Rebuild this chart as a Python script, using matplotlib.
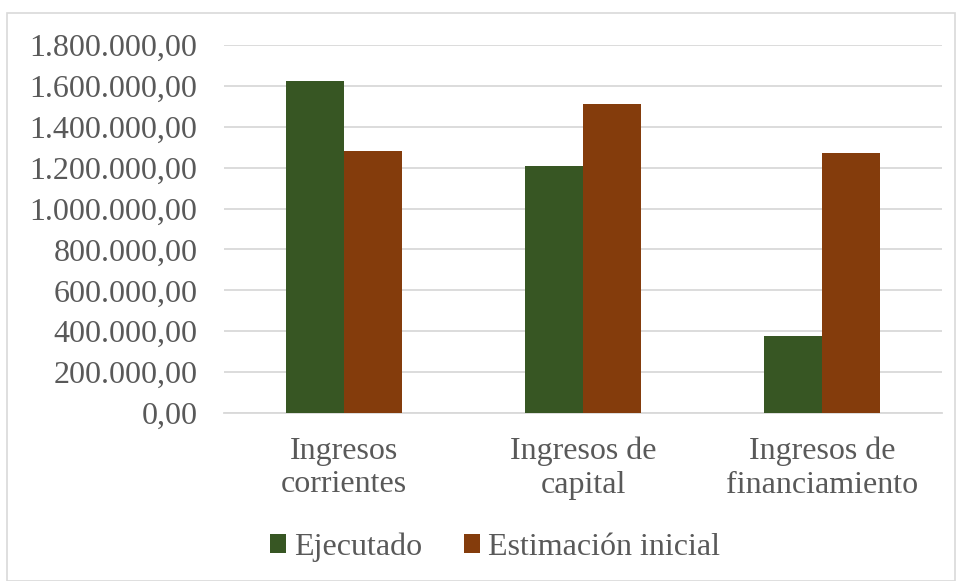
import matplotlib
matplotlib.use('Agg')
import matplotlib.pyplot as plt
import numpy as np
from matplotlib.patches import Rectangle
from matplotlib.ticker import FuncFormatter

plt.rcParams['font.family'] = ['Liberation Serif', 'DejaVu Serif']

categories = ['Ingresos\ncorrientes', 'Ingresos de\ncapital', 'Ingresos de\nfinanciamiento']
ejecutado = [1623000, 1206000, 379000]
estimacion = [1281000, 1511000, 1270000]
series_names = ['Ejecutado', 'Estimación inicial']

green = '#375623'
brown = '#843C0C'
text_col = '#595959'
grid_col = '#D9D9D9'

fig = plt.figure(figsize=(9.56, 5.81), dpi=100)
ax = fig.add_axes([224/956, 1-413/581, (942-224)/956, (413-45)/581])

x = np.arange(len(categories))
w = 0.243
ax.bar(x - w/2, ejecutado, w, color=green, label=series_names[0], zorder=3)
ax.bar(x + w/2, estimacion, w, color=brown, label=series_names[1], zorder=3)

ax.set_xlim(-0.5, len(categories) - 0.5)
ax.set_ylim(0, 1800000)
ax.set_yticks(np.arange(0, 1800001, 200000))

def fmt(v, pos):
    s = f'{v:,.2f}'
    return s.replace(',', 'X').replace('.', ',').replace('X', '.')
ax.yaxis.set_major_formatter(FuncFormatter(fmt))

ax.set_xticks(x)
ax.set_xticklabels(categories)
ax.tick_params(axis='both', length=0, labelsize=23, labelcolor=text_col)
ax.tick_params(axis='y', pad=19)
ax.tick_params(axis='x', pad=17)

ax.grid(axis='y', color=grid_col, lw=1.3, zorder=0)
for s in ['top', 'right', 'left']:
    ax.spines[s].set_visible(False)
ax.spines['bottom'].set_color(grid_col)
ax.spines['bottom'].set_linewidth(1.3)

leg = fig.legend(loc='center', bbox_to_anchor=(495/956, 1-547/581), ncol=2,
                 frameon=False, fontsize=23, handlelength=0.5, handleheight=0.5,
                 handletextpad=0.25, columnspacing=1.3, labelcolor=text_col)

fig.patches.append(Rectangle((7/956, 0), 948/956, 1-13/581, transform=fig.transFigure,
                             fill=False, edgecolor=grid_col, lw=1.2))

fig.savefig('out.png', dpi=100, facecolor='white')
